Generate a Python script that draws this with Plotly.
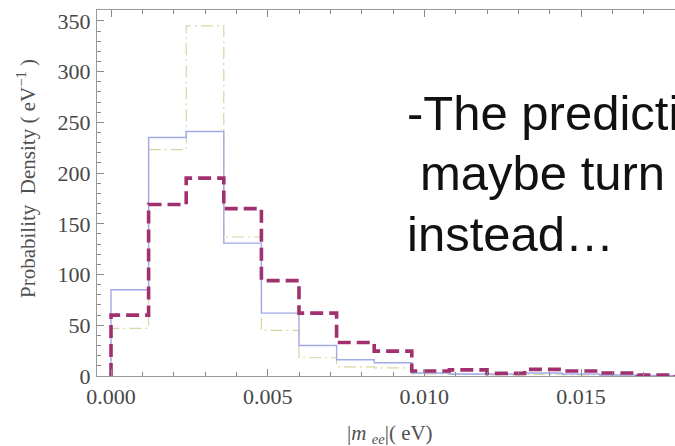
import plotly.graph_objects as go

# bin edges (eV) and probability densities (eV^-1)
bin_width = 0.0012
n_bins = 16
edges = [round(i * bin_width, 6) for i in range(n_bins + 1)]

blue_solid = [85, 235, 241, 131, 62, 30, 16, 13, 3, 2, 2, 3, 2, 1, 0.5, 0.3]
khaki_dashdot = [47, 223, 345, 137, 45, 18, 9, 8, 2, 1.5, 1, 1.5, 1, 0.5, 0.3, 0.2]
purple_dashed = [60, 169, 195, 165, 94, 62, 33, 24.5, 5, 6, 2.6, 6.5, 5, 3, 1, 0.5]

x_ticks = [0.0, 0.005, 0.010, 0.015]
x_tick_text = ["0.000", "0.005", "0.010", "0.015"]
y_ticks = [0, 50, 100, 150, 200, 250, 300, 350]

text_lines = ["-The predicti", "maybe turn", "instead…"]


def step_xy(vals):
    xs = [edges[0]] + edges
    ys = [0] + list(vals) + [vals[-1]]
    return xs, ys


fig = go.Figure()
series = [
    (khaki_dashdot, dict(color="#d6d6a4", width=1.2, dash="12px,4px,2px,4px")),
    (blue_solid, dict(color="#a2aae6", width=1.4)),
    (purple_dashed, dict(color="#a1306f", width=3.6, dash="13px,6px")),
]
for vals, line in series:
    xs, ys = step_xy(vals)
    fig.add_trace(go.Scatter(x=xs, y=ys, mode="lines", line=dict(shape="hv", **line),
                             showlegend=False, hoverinfo="skip"))

tick_font = dict(family="Liberation Serif, Times New Roman, serif", size=22, color="#474747")

fig.update_layout(
    width=675, height=446,
    margin=dict(l=97, r=0, t=10, b=70),
    paper_bgcolor="white", plot_bgcolor="white",
    xaxis=dict(range=[-0.000447, 0.018], tickvals=x_ticks, ticktext=x_tick_text,
               ticks="inside", ticklen=7, tickwidth=1, tickcolor="#8a8a8a",
               minor=dict(dtick=0.001, ticks="inside", ticklen=4, tickcolor="#8a8a8a"),
               showline=True, linecolor="#9a9a9a", linewidth=1.2, mirror="ticks",
               showgrid=False, zeroline=False, tickfont=tick_font, ticklabelstandoff=0),
    yaxis=dict(range=[0, 360.7], tickvals=y_ticks,
               ticks="inside", ticklen=7, tickwidth=1, tickcolor="#8a8a8a",
               minor=dict(dtick=10, ticks="inside", ticklen=4, tickcolor="#8a8a8a"),
               showline=True, linecolor="#9a9a9a", linewidth=1.2, mirror=False,
               showgrid=False, zeroline=False, tickfont=tick_font, ticklabelstandoff=1),
)

title_font = dict(family="Liberation Serif, Times New Roman, serif", size=21, color="#505050")
fig.add_annotation(text="Probability  Density ( eV<sup>−1</sup> )", xref="paper", yref="paper",
                   x=-97 / 578 + 27 / 578, y=(376 - 179) / 366, xanchor="center", yanchor="middle",
                   textangle=-90, showarrow=False, font=title_font)
fig.add_annotation(text="|<i>m</i> <sub><i>ee</i></sub>|( eV)", xref="paper", yref="paper",
                   x=(390 - 97) / 578, y=-(434 - 376) / 366, xanchor="center", yanchor="middle",
                   showarrow=False, font=title_font)

big_font = dict(family="Liberation Sans, Arial, sans-serif", size=49, color="#111111")
line_x = [405, 418, 405]
line_baseline = [130, 190, 251]
for t, px, base in zip(text_lines, line_x, line_baseline):
    fig.add_annotation(text=t, xref="paper", yref="paper",
                       x=(px - 97) / 578, y=(376 - (base - 17)) / 366,
                       xanchor="left", yanchor="middle", showarrow=False, font=big_font)

fig.write_html("out.html")
